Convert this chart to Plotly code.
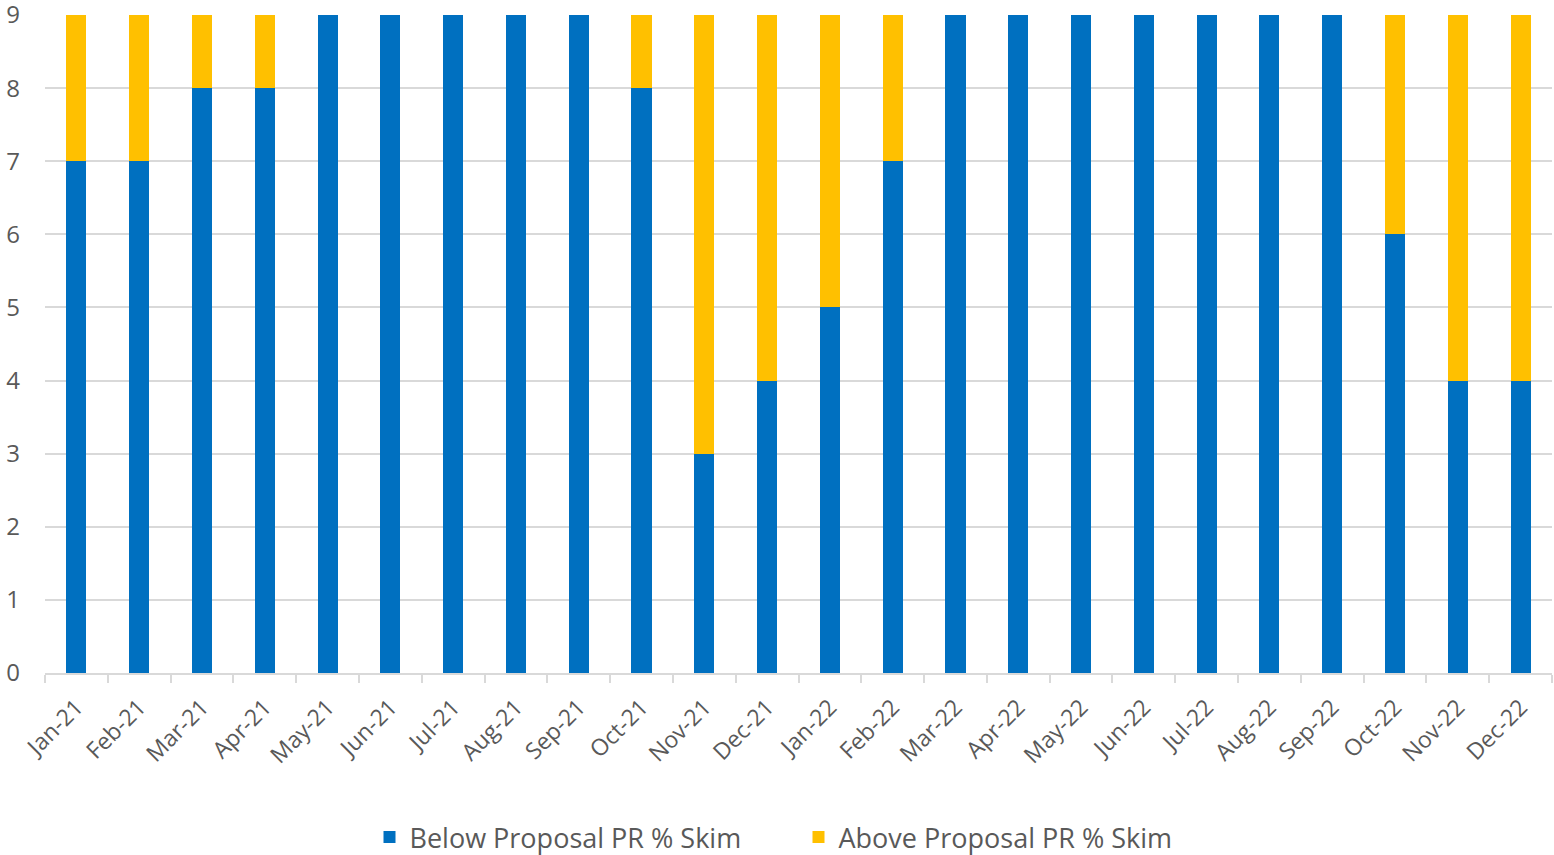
import plotly.graph_objects as go

months = ["Jan-21","Feb-21","Mar-21","Apr-21","May-21","Jun-21","Jul-21","Aug-21","Sep-21","Oct-21","Nov-21","Dec-21",
          "Jan-22","Feb-22","Mar-22","Apr-22","May-22","Jun-22","Jul-22","Aug-22","Sep-22","Oct-22","Nov-22","Dec-22"]
below = [7,7,8,8,9,9,9,9,9,8,3,4,5,7,9,9,9,9,9,9,9,6,4,4]
above = [2,2,1,1,0,0,0,0,0,1,6,5,4,2,0,0,0,0,0,0,0,3,5,5]
y_ticks = [0,1,2,3,4,5,6,7,8,9]

FONT = "Open Sans, Noto Sans, sans-serif"
GREY = "#595959"

fig = go.Figure()
fig.add_trace(go.Bar(x=months, y=below, name="Below Proposal PR % Skim", marker_color="#0070C0", marker_line_width=0))
fig.add_trace(go.Bar(x=months, y=above, name="Above Proposal PR % Skim", marker_color="#FFC000", marker_line_width=0))

fig.update_layout(
    barmode="stack",
    bargap=0.68,
    width=1554, height=855,
    margin=dict(l=45, r=2, t=15, b=182, autoexpand=False),
    plot_bgcolor="white", paper_bgcolor="white",
    font=dict(family=FONT, color=GREY),
    legend=dict(orientation="h", x=0.5, xanchor="center", y=-0.25, yanchor="middle",
                traceorder="normal",
                font=dict(size=27, color=GREY), entrywidth=384, itemwidth=30),
    showlegend=True,
)
fig.update_xaxes(
    type="category", tickangle=-45, tickfont=dict(size=23, color=GREY),
    showline=True, linecolor="#D9D9D9", linewidth=1.5,
    ticks="outside", tickson="boundaries", ticklen=8, tickcolor="#D9D9D9", tickwidth=1.5,
    showgrid=False, automargin=False, ticklabelstandoff=10,
)
fig.update_yaxes(
    range=[0, 9], tickmode="array", tickvals=y_ticks, tickfont=dict(size=24, color=GREY),
    showgrid=True, gridcolor="#D9D9D9", gridwidth=1.5, ticklabeloverflow="allow",
    zeroline=False, ticklabelstandoff=24, automargin=False,
)

fig.write_html("out.html", config={"displayModeBar": False},
               post_script="document.body.style.margin='0';document.body.style.padding='0';")
